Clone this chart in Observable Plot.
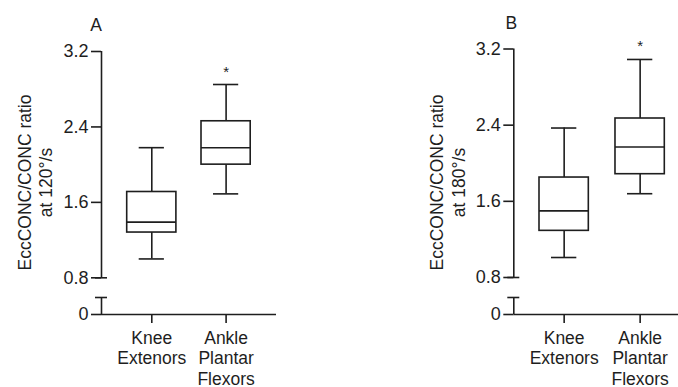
<!DOCTYPE html>
<html><head><meta charset="utf-8">
<script src="https://cdn.jsdelivr.net/npm/d3@7"></script>
<script src="https://cdn.jsdelivr.net/npm/@observablehq/plot@0.6"></script>
<style>
body{margin:0;background:#fff;}
#row{display:flex;width:678px;height:387px;}
#row svg{display:block;}
</style></head><body><div id="row"></div>
<script>
// ---- data ----
const categories = ["Knee\nExtenors", "Ankle\nPlantar\nFlexors"];
const panelLabels = ["A", "B"];
const yLabels = ["EccCONC/CONC ratio\nat 120°/s", "EccCONC/CONC ratio\nat 180°/s"];
const yTicks = [0, 0.8, 1.6, 2.4, 3.2];
const axisBreak = [0.2, 0.8];
const significant = [false, true];
// Panel A (120°/s)
const minA = [1.00, 1.69];
const q1A  = [1.28, 2.00];
const medA = [1.39, 2.18];
const q3A  = [1.71, 2.46];
const maxA = [2.18, 2.85];
// Panel B (180°/s)
const minB = [1.01, 1.68];
const q1B  = [1.29, 1.885];
const medB = [1.50, 2.17];
const q3B  = [1.85, 2.47];
const maxB = [2.37, 3.09];

// ---- layout (styles / positions, not data) ----
const FONT = "'Liberation Sans', Arial, Helvetica, sans-serif";
const INK = "#1e1e1e";
const SW = 1.6;
const panels = [
  {label: panelLabels[0], yLabel: yLabels[0], min: minA, q1: q1A, med: medA, q3: q3A, max: maxA,
   mL: 101, mR: 63, xRange: [126.7, 250.2], pad: 0.338, yRange: [314, 297, 277.3, 51], titleDx: -5.5, titleDy: -20},
  {label: panelLabels[1], yLabel: yLabels[1], min: minB, q1: q1B, med: medB, q3: q3B, max: maxB,
   mL: 174.3, mR: 0, xRange: [200, 325.3], pad: 0.351, yRange: [314, 297, 277, 48.5], titleDx: -2.5, titleDy: -22}
];
const W = 339, H = 387, mT = 50, mB = 73;

for (const p of panels) {
  const rows = categories.map((c, i) => ({cat: c, min: p.min[i], q1: p.q1[i], med: p.med[i], q3: p.q3[i], max: p.max[i], sig: significant[i]}));
  const frameW = W - p.mL - p.mR;
  const axisSegments = [[yTicks[0], axisBreak[0]], [axisBreak[1], yTicks[yTicks.length - 1]]];
  const chart = Plot.plot({
    width: W, height: H,
    marginLeft: p.mL, marginRight: p.mR, marginTop: mT, marginBottom: mB,
    style: {fontFamily: FONT, color: INK, background: "white", overflow: "visible"},
    x: {type: "band", domain: categories, range: p.xRange, paddingInner: p.pad, paddingOuter: 0, round: false, label: null},
    y: {type: "linear", domain: [yTicks[0], axisBreak[0], axisBreak[1], yTicks[yTicks.length - 1]], range: p.yRange, label: null},
    marks: [
      // y axis line (broken)
      Plot.ruleX(axisSegments, {x: null, y1: d => d[0], y2: d => d[1], dx: -frameW / 2, stroke: INK, strokeWidth: SW}),
      // break caps
      Plot.ruleY(axisBreak, {dx: -6, insetRight: frameW - 12, stroke: INK, strokeWidth: SW}),
      // x axis line
      Plot.ruleY([yTicks[0]], {stroke: INK, strokeWidth: SW}),
      Plot.axisY({ticks: yTicks, tickFormat: d => d === 0 ? "0" : d.toFixed(1), tickSize: 10, tickPadding: 3, fontSize: 18, strokeWidth: SW, stroke: INK, label: null}),
      Plot.axisX({tickSize: 9, tickPadding: 6, fontSize: 17.5, lineHeight: 1.16, strokeWidth: SW, stroke: INK, label: null}),
      // whiskers
      Plot.ruleX(rows, {x: "cat", y1: "q3", y2: "max", stroke: INK, strokeWidth: SW}),
      Plot.ruleX(rows, {x: "cat", y1: "min", y2: "q1", stroke: INK, strokeWidth: SW}),
      Plot.tickY(rows, {x: "cat", y: "max", insetLeft: 12, insetRight: 12, stroke: INK, strokeWidth: SW}),
      Plot.tickY(rows, {x: "cat", y: "min", insetLeft: 12, insetRight: 12, stroke: INK, strokeWidth: SW}),
      // boxes
      Plot.barY(rows, {x: "cat", y1: "q1", y2: "q3", fill: "white", stroke: INK, strokeWidth: SW}),
      Plot.tickY(rows, {x: "cat", y: "med", stroke: INK, strokeWidth: SW}),
      // significance
      Plot.text(rows.filter(d => d.sig), {x: "cat", y: "max", text: () => "*", dy: -8, lineAnchor: "bottom", fontSize: 15, fill: INK}),
      // axis label
      Plot.text([p.yLabel], {frameAnchor: "left", rotate: -90, dx: -67, fontSize: 17.5, lineHeight: 1.25, textAnchor: "middle", lineAnchor: "middle", fill: INK}),
      // panel label
      Plot.text([p.label], {frameAnchor: "top-left", dx: p.titleDx, dy: p.titleDy, textAnchor: "middle", lineAnchor: "bottom", fontSize: 17.5, fill: INK})
    ]
  });
  document.getElementById("row").appendChild(chart);
}
</script></body></html>
